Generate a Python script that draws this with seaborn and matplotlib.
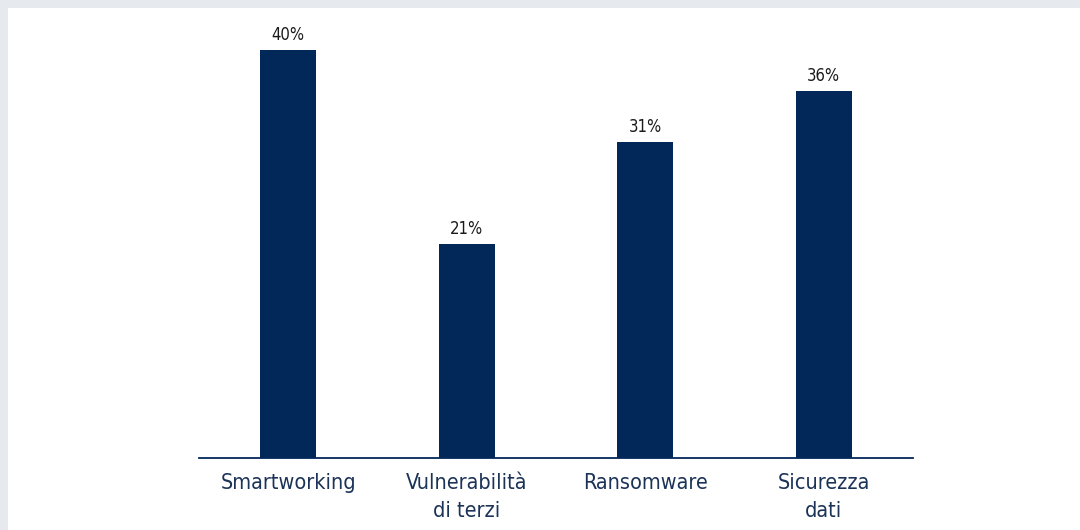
import seaborn as sns
import pandas as pd
import matplotlib.pyplot as plt
from matplotlib.patches import Rectangle

categories = ['Smartworking', 'Vulnerabilità\ndi terzi', 'Ransomware', 'Sicurezza\ndati']
values = [40, 21, 31, 36]

navy = '#02285a'
text_navy = '#1c3358'

sns.set_theme(style='white')
plt.rcParams['font.family'] = ['DejaVu Sans']
plt.rcParams['font.stretch'] = 'condensed'

df = pd.DataFrame({'categoria': categories, 'valore': values})

fig = plt.figure(figsize=(10.8, 5.3), dpi=100)
fig.patch.set_facecolor('#e6e9ee')
# pannello bianco (bordo grigio in alto e a sinistra)
fig.add_artist(Rectangle((8 / 1080, 0), 1, (530 - 8) / 530, transform=fig.transFigure,
                         facecolor='white', edgecolor='none', zorder=-10))

ax = fig.add_axes([199 / 1080, 72 / 530, 714 / 1080, 44 * 10.2 / 530])
ax.set_facecolor('none')
ax.set_zorder(5)
sns.barplot(x='categoria', y='valore', data=df, color=navy, width=0.315, saturation=1,
            linewidth=0, ax=ax)

ax.set_xlim(-0.5, 3.5)
ax.set_ylim(0, 44)
for i, v in enumerate(values):
    ax.text(i, v + 0.6, f'{v}%', ha='center', va='bottom', fontsize=12, color='#1a1a1a')

ax.set_xlabel('')
ax.set_ylabel('')
ax.set_yticks([])
ax.tick_params(axis='x', length=0, pad=11, labelsize=15.5, labelcolor=text_navy)
for lab in ax.get_xticklabels():
    lab.set_linespacing(1.5)
for s in ['top', 'right', 'left']:
    ax.spines[s].set_visible(False)
ax.spines['bottom'].set_color(navy)
ax.spines['bottom'].set_linewidth(1.3)

plt.savefig('out.png', dpi=100, facecolor=fig.get_facecolor())
